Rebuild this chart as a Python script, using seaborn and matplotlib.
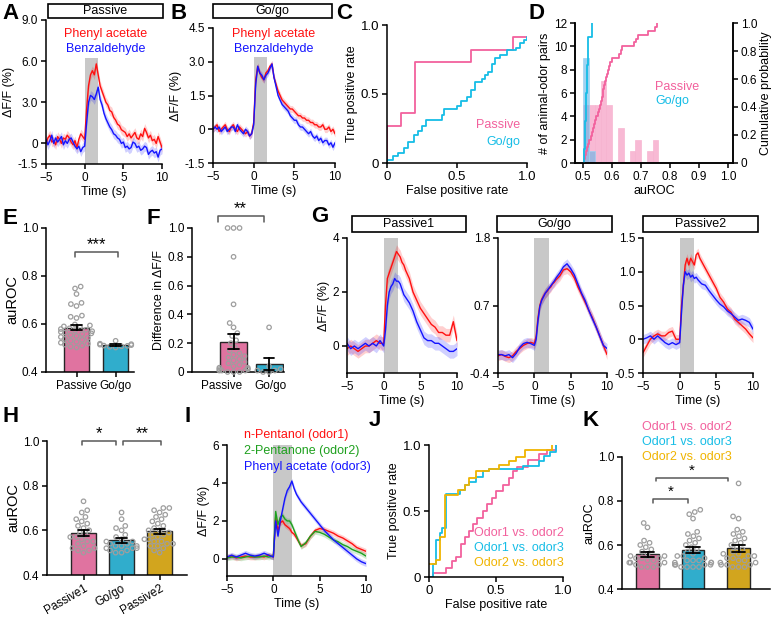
import warnings
import numpy as np
import pandas as pd
import matplotlib
matplotlib.use("Agg")
import matplotlib.pyplot as plt
from matplotlib.patches import Rectangle
from matplotlib.transforms import ScaledTranslation
import seaborn as sns

warnings.filterwarnings("ignore")

# ---- time courses (s) ----
t_fine = [-5, -4.75, -4.5, -4.25, -4, -3.75, -3.5, -3.25, -3, -2.75,
          -2.5, -2.25, -2, -1.75, -1.5, -1.25, -1, -0.75, -0.5, -0.25,
          0, 0.25, 0.5, 0.75, 1, 1.25, 1.5, 1.75, 2, 2.25, 2.5, 2.75, 3,
          3.25, 3.5, 3.75, 4, 4.25, 4.5, 4.75, 5, 5.25, 5.5, 5.75, 6, 6.25,
          6.5, 6.75, 7, 7.25, 7.5, 7.75, 8, 8.25, 8.5, 8.75, 9, 9.25, 9.5, 9.75, 10]
t_sec = [-5, -4.5, -4, -3.5, -3, -2.5, -2, -1.5, -1, -0.5,
         0, 0.25, 0.5, 0.75, 1, 1.25, 1.5, 1.75, 2, 2.25, 2.5, 2.75, 3,
         3.5, 4, 4.5, 5, 5.5, 6, 6.5, 7, 7.5, 8, 8.5, 9, 9.5, 10]

a_phenyl = [0.0, 0.4, 0.6, 0.1, 0.2, -0.1, 0.5, 0.3, 0.0, 0.4,
            0.3, 0.6, 0.4, 0.1, -0.1, 0.2, -0.3, 0.3, 0.7, 0.5,
            0.3, 2.5, 4.2, 5.0, 5.3, 5.0, 5.8, 5.0, 4.2, 3.8, 3.4, 3.0, 2.8,
            2.4, 2.3, 1.9, 1.7, 1.4, 1.3, 1.0, 0.9, 0.8, 0.5, 0.7, 0.4, 0.6,
            0.8, 0.4, 0.3, 0.7, 0.5, 1.1, 0.8, 0.4, 0.6, 0.2, 0.3, 0.0, 0.5, 0.1, -0.3]
a_benz = [0.3, -0.1, 0.2, 0.6, 0.0, 0.4, 0.1, 0.3, 0.5, -0.1,
          0.2, 0.0, 0.3, 0.4, 0.1, -0.2, -0.4, -0.2, -0.6, -0.3,
          -0.2, 1.5, 3.0, 3.5, 3.4, 3.2, 3.6, 4.1, 3.2, 2.8, 2.2, 1.8, 1.5,
          1.2, 1.0, 0.7, 0.6, 0.4, 0.3, 0.0, 0.1, -0.3, -0.2, -0.4, -0.3, 0.1,
          0.0, -0.3, -0.2, -0.5, -0.4, -0.2, -0.3, -0.8, -0.6, -0.5, -0.7, -0.6, -1.0, -0.5, -0.4]
b_phenyl = [0.0, 0.1, 0.2, -0.1, 0.0, 0.1, 0.2, 0.0, -0.1, 0.1,
            0.2, 0.0, -0.1, 0.1, 0.0, -0.1, -0.2, -0.1, -0.3, -0.2,
            0.3, 2.2, 2.8, 2.5, 2.3, 2.2, 2.5, 2.6, 2.8, 2.9, 2.3, 2.0, 1.7,
            1.5, 1.3, 1.2, 1.1, 1.0, 0.9, 0.9, 0.8, 0.7, 0.6, 0.6, 0.5, 0.5,
            0.4, 0.4, 0.3, 0.3, 0.2, 0.2, 0.1, 0.1, 0.2, 0.0, 0.0, 0.1, -0.1, 0.0, -0.2]
b_benz = [0.0, 0.1, 0.0, 0.1, -0.1, 0.0, 0.1, -0.1, 0.0, 0.1,
          0.1, -0.1, 0.2, 0.0, -0.1, -0.2, 0.0, -0.1, -0.3, -0.2,
          0.2, 2.0, 2.8, 2.5, 2.4, 2.2, 2.4, 2.5, 2.7, 2.9, 2.3, 1.9, 1.5,
          1.3, 1.1, 1.0, 0.9, 0.8, 0.6, 0.5, 0.4, 0.4, 0.2, 0.1, 0.1, 0.0,
          -0.1, -0.2, -0.1, -0.3, -0.4, -0.3, -0.5, -0.4, -0.6, -0.5, -0.5, -0.7, -0.6, -0.8, -0.6]
sem_a, sem_b = 0.35, 0.15

g1_red = [-0.1, 0.0, -0.1, -0.2, -0.1, 0.0, 0.0, 0.1, 0.2, 0.1,
          0.1, 1.5, 2.5, 2.7, 2.9, 3.1, 3.3, 3.5, 3.4, 3.3, 3.1, 3.0, 2.8,
          2.5, 2.0, 1.7, 1.4, 1.2, 1.0, 0.8, 0.7, 0.5, 0.5, 0.4, 0.4, 0.9, 0.2]
g1_blue = [0.1, -0.1, 0.0, -0.1, 0.0, 0.1, 0.0, 0.1, 0.0, 0.2,
           0.0, 0.6, 1.5, 2.0, 2.2, 2.3, 2.5, 2.4, 2.4, 2.3, 2.1, 1.9, 1.8,
           1.6, 1.3, 0.9, 0.6, 0.3, 0.2, 0.2, 0.1, 0.1, 0.0, -0.1, -0.2, -0.2, -0.1]
g2_red = [-0.12, -0.1, -0.13, -0.15, -0.12, -0.05, 0.0, 0.05, 0.08, 0.1,
          0.08, 0.2, 0.5, 0.7, 0.8, 0.85, 0.9, 0.93, 0.97, 1.0, 1.05, 1.08, 1.12,
          1.18, 1.28, 1.3, 1.25, 1.15, 1.0, 0.88, 0.75, 0.62, 0.5, 0.35, 0.2, 0.05, -0.1]
g2_blue = [-0.1, -0.1, -0.12, -0.1, -0.15, -0.08, 0.02, 0.08, 0.1, 0.08,
           0.05, 0.15, 0.45, 0.68, 0.78, 0.84, 0.9, 0.94, 0.98, 1.02, 1.06, 1.1, 1.15,
           1.23, 1.33, 1.38, 1.3, 1.2, 1.05, 0.9, 0.78, 0.62, 0.48, 0.35, 0.2, 0.05, 0.0]
g3_red = [-0.2, -0.1, 0.0, 0.05, 0.08, 0.05, 0.05, 0.1, 0.12, 0.0,
          0.0, 0.5, 0.8, 1.1, 1.2, 1.1, 1.2, 1.15, 1.1, 1.25, 1.28, 1.2, 1.15,
          1.05, 0.95, 0.85, 0.75, 0.62, 0.55, 0.45, 0.4, 0.3, 0.25, 0.2, 0.15, 0.08, 0.02]
g3_blue = [0.0, 0.02, 0.05, 0.0, 0.05, 0.0, -0.05, -0.08, -0.05, -0.08,
           -0.05, 0.4, 0.8, 1.0, 0.95, 0.98, 0.92, 0.95, 0.9, 0.92, 0.88, 0.85, 0.82,
           0.8, 0.72, 0.65, 0.58, 0.52, 0.48, 0.42, 0.38, 0.33, 0.28, 0.3, 0.28, 0.25, 0.15]
sem_g = [0.25, 0.08, 0.07]

i_pentanol = [0.1, 0.15, 0.05, 0.1, 0.15, 0.1, 0.1, 0.15, 0.1, 0.2,
              0.1, 2.2, 1.5, 1.9, 2.0, 1.8, 1.7, 1.6, 1.4, 1.3, 1.1, 0.9, 0.7,
              0.8, 1.2, 1.5, 1.6, 1.55, 1.45, 1.35, 1.2, 1.1, 0.95, 0.8, 0.6, 0.5, 0.4]
i_pentanone = [0.05, 0.1, 0.1, 0.05, 0.1, 0.15, 0.1, 0.1, 0.15, 0.1,
               0.15, 2.5, 1.8, 2.2, 2.3, 2.1, 2.0, 2.0, 1.8, 1.5, 1.2, 0.9, 0.65,
               0.85, 1.2, 1.45, 1.4, 1.3, 1.15, 1.0, 0.9, 0.75, 0.65, 0.5, 0.4, 0.3, 0.15]
i_phenyl = [0.1, 0.2, 0.1, 0.2, 0.3, 0.2, 0.15, 0.2, 0.3, 0.2,
            0.1, 2.0, 1.2, 2.0, 2.6, 3.2, 3.6, 3.8, 4.1, 3.7, 3.4, 3.2, 3.0,
            2.7, 2.4, 2.1, 1.8, 1.5, 1.25, 1.0, 0.8, 0.6, 0.4, 0.2, 0.0, -0.15, -0.25]
sem_i = 0.15

# ---- ROC curves ----
c_passive_fpr = [0, 0, 0.1, 0.2, 0.6, 0.9, 1.0]
c_passive_tpr = [0, 0.27, 0.36, 0.73, 0.82, 0.91, 0.91]
c_gogo_fpr = [0, 0, 0.04, 0.08, 0.12, 0.15, 0.19, 0.22, 0.25, 0.28, 0.39, 0.41, 0.5, 0.53,
              0.57, 0.6, 0.63, 0.68, 0.7, 0.72, 0.75, 0.77, 0.81, 0.86, 0.92, 0.95, 0.98, 1.0]
c_gogo_tpr = [0, 0.02, 0.05, 0.07, 0.11, 0.15, 0.2, 0.23, 0.27, 0.31, 0.35, 0.39, 0.41, 0.45,
              0.48, 0.53, 0.59, 0.61, 0.64, 0.66, 0.72, 0.76, 0.78, 0.82, 0.83, 0.87, 0.89, 0.91]

j_12_fpr = [0, 0.03, 0.13, 0.17, 0.2, 0.24, 0.27, 0.3, 0.33, 0.36, 0.4,
            0.43, 0.47, 0.5, 0.55, 0.6, 0.63, 0.66, 0.74, 0.82, 0.88, 0.95]
j_12_tpr = [0, 0.03, 0.07, 0.12, 0.15, 0.25, 0.3, 0.35, 0.4, 0.45, 0.5,
            0.55, 0.6, 0.65, 0.7, 0.75, 0.8, 0.83, 0.89, 0.93, 0.96, 1.0]
j_13_fpr = [0, 0.03, 0.05, 0.08, 0.1, 0.13, 0.23, 0.27, 0.3, 0.35, 0.4, 0.45,
            0.7, 0.76, 0.82, 0.86, 0.9, 0.95]
j_13_tpr = [0, 0.1, 0.28, 0.33, 0.37, 0.63, 0.66, 0.7, 0.72, 0.76, 0.8, 0.82,
            0.84, 0.84, 0.88, 0.92, 0.95, 1.0]
j_23_fpr = [0, 0.05, 0.08, 0.12, 0.22, 0.27, 0.3, 0.35, 0.45, 0.52, 0.6, 0.65, 0.72, 0.92]
j_23_tpr = [0.1, 0.13, 0.3, 0.62, 0.66, 0.7, 0.75, 0.8, 0.82, 0.85, 0.88, 0.91, 0.96, 1.0]

# ---- auROC per animal-odor pair (D, E) ----
auroc_passive = [0.502, 0.506, 0.51, 0.514, 0.518, 0.522, 0.526, 0.53, 0.534, 0.538,
                 0.542, 0.546, 0.55, 0.554, 0.558, 0.561, 0.564, 0.567, 0.57, 0.573,
                 0.576, 0.579, 0.582, 0.586, 0.59, 0.594, 0.598, 0.625, 0.63, 0.635,
                 0.675, 0.683, 0.688, 0.725, 0.748, 0.756]
auroc_gogo = [0.502, 0.505, 0.507, 0.509, 0.51, 0.512, 0.514, 0.516, 0.518, 0.53]

# ---- difference in dF/F (F) ----
diff_passive = [1.0, 1.0, 1.0, 0.8, 0.47, 0.34, 0.31, 0.27, 0.25, 0.2, 0.15, 0.12,
                0.1, 0.08, 0.06, 0.04, 0.02, 0.01, 0.0, 0.0, 0.01, 0.02, 0.03, 0.05,
                0.07, 0.09, 0.11, 0.13, 0.17, 0.22, 0.0, 0.01, 0.02, 0.03]
diff_gogo = [0.31, 0.04, 0.02, 0.01, 0.01, 0.0, 0.0]

# ---- auROC across sessions (H) ----
h_passive1 = [0.73, 0.69, 0.68, 0.66, 0.65, 0.64, 0.63, 0.62, 0.61, 0.60, 0.59, 0.58,
              0.57, 0.57, 0.56, 0.55, 0.55, 0.54, 0.53, 0.52, 0.51, 0.50, 0.51, 0.52]
h_gogo = [0.68, 0.65, 0.62, 0.61, 0.60, 0.58, 0.57, 0.56, 0.55, 0.55, 0.54,
          0.54, 0.53, 0.53, 0.52, 0.52, 0.51, 0.51, 0.50, 0.50, 0.52, 0.53]
h_passive2 = [0.70, 0.70, 0.69, 0.68, 0.67, 0.66, 0.65, 0.64, 0.63, 0.62, 0.61, 0.60,
              0.60, 0.59, 0.58, 0.57, 0.56, 0.55, 0.55, 0.54, 0.53, 0.52, 0.51, 0.50,
              0.53, 0.56, 0.58, 0.54]

# ---- auROC between odor pairs (K) ----
k_12 = [0.70, 0.68, 0.62, 0.61, 0.60, 0.59, 0.58, 0.57, 0.56, 0.55, 0.55, 0.54,
        0.54, 0.53, 0.53, 0.52, 0.52, 0.51, 0.51, 0.50, 0.50, 0.52, 0.54, 0.50]
k_13 = [0.76, 0.75, 0.74, 0.72, 0.66, 0.65, 0.64, 0.63, 0.62, 0.61, 0.60, 0.59,
        0.58, 0.57, 0.56, 0.55, 0.54, 0.53, 0.52, 0.51, 0.51, 0.50, 0.50, 0.52,
        0.53, 0.55, 0.50, 0.51, 0.52, 0.53, 0.50, 0.51]
k_23 = [0.88, 0.73, 0.72, 0.67, 0.66, 0.65, 0.64, 0.63, 0.62, 0.61, 0.60, 0.59,
        0.58, 0.57, 0.56, 0.55, 0.54, 0.53, 0.52, 0.51, 0.50, 0.50, 0.51, 0.52,
        0.53, 0.54, 0.55, 0.56, 0.50, 0.51]

# ---- style ----
sns.set_theme(style="ticks")
plt.rcParams["font.family"] = ["Liberation Sans", "DejaVu Sans"]
plt.rcParams.update({
    "axes.linewidth": 1.1, "axes.edgecolor": "black",
    "xtick.major.size": 3.5, "ytick.major.size": 3.5,
    "xtick.major.width": 1.1, "ytick.major.width": 1.1,
    "xtick.major.pad": 2, "ytick.major.pad": 2,
    "xtick.labelsize": 8.5, "ytick.labelsize": 8.5,
    "axes.labelsize": 8.5, "axes.labelpad": 2,
    "xtick.color": "black", "ytick.color": "black",
    "text.color": "black", "axes.labelcolor": "black",
})

RED, BLUE, GREEN = "#ff1010", "#1414ff", "#1ea01e"
PINK, CYAN, GOLD = "#f2619d", "#16bde6", "#f0b400"
STIM = "#c8c8c8"
LEG = 9

W, H = 775, 618
fig = plt.figure(figsize=(7.75, 6.18), dpi=100)


def box(l, t, r, b):
    return fig.add_axes([l / W, 1 - b / H, (r - l) / W, (b - t) / H])


def ftext(x, y, s, **kw):
    kw.setdefault("va", "center")
    fig.text(x / W, 1 - y / H, s, **kw)


def letter(x, y, s):
    fig.text(x / W, 1 - y / H, s, fontsize=16, fontweight="bold", va="top", ha="left")


def title_box(l, t, r, b, s):
    fig.add_artist(Rectangle((l / W, 1 - b / H), (r - l) / W, (b - t) / H,
                             transform=fig.transFigure, fill=False, lw=1.2, ec="black"))
    ftext((l + r) / 2, (t + b) / 2, s, ha="center", fontsize=9)


def trace(ax, t, y, sem, color):
    df = pd.DataFrame({"t": t, "y": y})
    sns.lineplot(data=df, x="t", y="y", color=color, lw=1.0, estimator=None, ax=ax)
    yy = np.array(y)
    ax.fill_between(t, yy - sem, yy + sem, color=color, alpha=0.2, lw=0)


def trace_axes(ax, ylim, yticks, ylabels, stim_end=2.0, stim_top=None, ylabel=True):
    top = ylim[1] if stim_top is None else stim_top
    ax.fill_between([0, stim_end], ylim[0], top, color=STIM, lw=0, zorder=0)
    ax.set_xlim(-5, 10)
    ax.set_ylim(*ylim)
    ax.set_xticks([-5, 0, 5, 10])
    ax.set_yticks(yticks)
    ax.set_yticklabels(ylabels)
    ax.set_xlabel("Time (s)", fontsize=9)
    ax.set_ylabel("ΔF/F (%)" if ylabel else "", fontsize=9)
    sns.despine(ax=ax)


def roc(ax, fpr, tpr, color):
    df = pd.DataFrame({"fpr": fpr, "tpr": tpr})
    sns.lineplot(data=df, x="fpr", y="tpr", color=color, lw=1.3, sort=False,
                 estimator=None, drawstyle="steps-post", ax=ax)


def roc_axes(ax, fs):
    ax.set_xlim(0, 1)
    ax.set_ylim(0, 1)
    ax.set_xticks([0, 0.5, 1.0])
    ax.set_xticklabels(["0", "0.5", "1.0"], fontsize=fs)
    ax.set_yticks([0, 0.5, 1.0])
    ax.set_yticklabels(["0", "0.5", "1.0"], fontsize=fs)
    ax.set_xlabel("False positive rate", fontsize=9)
    ax.set_ylabel("True positive rate", fontsize=9)
    sns.despine(ax=ax)


def bar_panel(ax, groups, colors, width, capsize):
    names = [n for n, _ in groups]
    df = pd.concat([pd.DataFrame({"group": n, "value": v}) for n, v in groups],
                   ignore_index=True)
    sns.barplot(data=df, x="group", y="value", hue="group", order=names,
                hue_order=names, palette=colors, width=width, errorbar="se",
                capsize=capsize, edgecolor="0.15", linewidth=1.0, legend=False,
                err_kws={"color": "black", "linewidth": 1.3, "zorder": 6}, ax=ax)
    n0 = len(ax.collections)
    sns.swarmplot(data=df, x="group", y="value", order=names, color="0.6",
                  size=3.2, ax=ax, zorder=4)
    for c in ax.collections[n0:]:
        c.set_facecolor("none")
        c.set_edgecolor("0.62")
        c.set_linewidth(0.9)
        c.set_clip_on(False)
    ax.set_xlabel("")
    sns.despine(ax=ax)


def bracket(ax, x1, x2, y, h, s, fs=12):
    ax.plot([x1, x1, x2, x2], [y - h, y, y, y - h], color="0.35", lw=1.1, clip_on=False)
    ax.text((x1 + x2) / 2, y, s, ha="center", va="bottom", fontsize=fs)


# ---- A ----
axA = box(46, 20, 162, 164)
trace(axA, t_fine, a_phenyl, sem_a, RED)
trace(axA, t_fine, a_benz, sem_a, BLUE)
trace_axes(axA, (-1.5, 9), [-1.5, 0, 3, 6, 9], ["-1.5", "0", "3.0", "6.0", "9.0"],
           stim_end=1.7, stim_top=6.2)
title_box(48, 4, 163, 18, "Passive")
ftext(106, 34, "Phenyl acetate", color=RED, ha="center", fontsize=LEG)
ftext(106, 49, "Benzaldehyde", color=BLUE, ha="center", fontsize=LEG)

# ---- B ----
axB = box(213, 28, 335, 163)
trace(axB, t_fine, b_phenyl, sem_b, RED)
trace(axB, t_fine, b_benz, sem_b, BLUE)
trace_axes(axB, (-1.5, 4.5), [-1.5, 0, 1.5, 3, 4.5], ["-1.5", "0", "1.5", "3.0", "4.5"],
           stim_end=1.6, stim_top=3.2)
title_box(213, 4, 332, 18, "Go/go")
ftext(274, 34, "Phenyl acetate", color=RED, ha="center", fontsize=LEG)
ftext(274, 49, "Benzaldehyde", color=BLUE, ha="center", fontsize=LEG)

# ---- C ----
axC = box(387, 25, 527, 163)
roc(axC, c_passive_fpr, c_passive_tpr, PINK)
roc(axC, c_gogo_fpr, c_gogo_tpr, CYAN)
roc_axes(axC, 9.5)
ftext(520, 125, "Passive", color=PINK, ha="right", fontsize=LEG)
ftext(520, 142, "Go/go", color=CYAN, ha="right", fontsize=LEG)

# ---- D ----
axD = box(575, 23, 733, 163)
sns.histplot(x=auroc_passive, binwidth=0.02, binrange=(0.5, 0.78), color="#f48bb8",
             alpha=0.6, edgecolor="#f7b6d2", linewidth=0.5, ax=axD)
sns.histplot(x=auroc_gogo, binwidth=0.02, binrange=(0.5, 0.54), color="#5fb4e8",
             alpha=0.6, edgecolor="#9fd0f0", linewidth=0.5, ax=axD)
axD.set_xlim(0.472, 1.017)
axD.set_ylim(0, 12)
axD.set_yticks(range(0, 13, 2))
axD.set_xticks([0.5, 0.6, 0.7, 0.8, 0.9, 1.0])
axD.set_xticklabels(["0.5", "0.6", "0.7", "0.8", "0.9", "1.0"])
axD.set_xlabel("auROC", fontsize=9)
axD.set_ylabel("# of animal-odor pairs", fontsize=9)
axD2 = axD.twinx()
sns.ecdfplot(x=auroc_passive, color=PINK, lw=1.3, ax=axD2)
sns.ecdfplot(x=auroc_gogo, color=CYAN, lw=1.3, ax=axD2)
axD2.set_ylim(0, 1)
axD2.set_yticks([0, 0.2, 0.4, 0.6, 0.8, 1.0])
axD2.set_yticklabels(["0", "0.2", "0.4", "0.6", "0.8", "1.0"])
axD2.set_ylabel("Cumulative probability", fontsize=9)
for a in (axD, axD2):
    a.spines["top"].set_visible(False)
ftext(655, 87, "Passive", color=PINK, ha="left", fontsize=LEG)
ftext(655, 101, "Go/go", color=CYAN, ha="left", fontsize=LEG)

# ---- E ----
axE = box(46, 228, 134, 372)
bar_panel(axE, [("Passive", auroc_passive), ("Go/go", auroc_gogo)], [PINK, CYAN], 0.64, 0.3)
axE.set_xlim(-0.78, 1.47)
axE.set_ylim(0.4, 1.0)
axE.set_yticks([0.4, 0.6, 0.8, 1.0])
axE.set_ylabel("auROC", fontsize=10.5)
bracket(axE, -0.05, 1.05, 0.9, 0.02, "***")

# ---- F ----
axF = box(192, 228, 284, 372)
bar_panel(axF, [("Passive", diff_passive), ("Go/go", diff_gogo)], [PINK, CYAN], 0.76, 0.3)
axF.set_xlim(-1.17, 1.42)
axF.set_ylim(0, 1.0)
axF.set_yticks([0, 0.2, 0.4, 0.6, 0.8, 1.0])
axF.set_yticklabels(["0", "0.2", "0.4", "0.6", "0.8", "1.0"])
axF.set_ylabel("Difference in ΔF/F", fontsize=9)
for lab, dx in zip(axF.get_xticklabels(), [-12, 1]):
    lab.set_transform(lab.get_transform() + ScaledTranslation(dx / 100, 0, fig.dpi_scale_trans))
bracket(axF, -0.45, 0.85, 1.08, 0.035, "**")

# ---- G ----
g_boxes = [(347, 457), (498, 607), (643, 753)]
g_titles = [(352, 466, "Passive1"), (497, 612, "Go/go"), (643, 758, "Passive2")]
g_data = [(g1_red, g1_blue), (g2_red, g2_blue), (g3_red, g3_blue)]
g_lims = [((-1, 4), [0, 2, 4], ["0", "2", "4"]),
          ((-0.4, 1.8), [-0.4, 0.7, 1.8], ["-0.4", "0.7", "1.8"]),
          ((-0.5, 1.5), [-0.5, 0, 0.5, 1.0, 1.5], ["-0.5", "0", "0.5", "1.0", "1.5"])]
for k in range(3):
    ax = box(g_boxes[k][0], 238, g_boxes[k][1], 373)
    trace(ax, t_sec, g_data[k][0], sem_g[k], RED)
    trace(ax, t_sec, g_data[k][1], sem_g[k], BLUE)
    ylim, yt, yl = g_lims[k]
    trace_axes(ax, ylim, yt, yl, ylabel=(k == 0))
    l, r, s = g_titles[k]
    title_box(l, 216, r, 232, s)

# ---- H ----
axH = box(47, 441, 187, 575)
bar_panel(axH, [("Passive1", h_passive1), ("Go/go", h_gogo), ("Passive2", h_passive2)],
          [PINK, CYAN, GOLD], 0.66, 0.3)
axH.set_xlim(-0.96, 2.72)
axH.set_ylim(0.4, 1.0)
axH.set_yticks([0.4, 0.6, 0.8, 1.0])
axH.set_ylabel("auROC", fontsize=10.5)
for lab in axH.get_xticklabels():
    lab.set_rotation(30)
    lab.set_ha("right")
    lab.set_rotation_mode("anchor")
bracket(axH, -0.05, 0.86, 1.0, 0.02, "*")
bracket(axH, 1.05, 2.03, 1.0, 0.02, "**")

# ---- I ----
axI = box(227, 445, 366, 576)
trace(axI, t_sec, i_pentanol, sem_i, RED)
trace(axI, t_sec, i_pentanone, sem_i, GREEN)
trace(axI, t_sec, i_phenyl, sem_i, BLUE)
trace_axes(axI, (-0.9, 6), [0, 2, 4, 6], ["0", "2", "4", "6"])
ftext(244, 435, "n-Pentanol (odor1)", color=RED, ha="left", fontsize=LEG)
ftext(244, 451, "2-Pentanone (odor2)", color=GREEN, ha="left", fontsize=LEG)
ftext(244, 467, "Phenyl acetate (odor3)", color=BLUE, ha="left", fontsize=LEG)

# ---- J ----
axJ = box(429, 445, 563, 577)
roc(axJ, j_12_fpr, j_12_tpr, PINK)
roc(axJ, j_13_fpr, j_13_tpr, CYAN)
roc(axJ, j_23_fpr, j_23_tpr, GOLD)
roc_axes(axJ, 9.5)
ftext(564, 533, "Odor1 vs. odor2", color=PINK, ha="right", fontsize=LEG)
ftext(564, 548, "Odor1 vs. odor3", color=CYAN, ha="right", fontsize=LEG)
ftext(564, 563, "Odor2 vs. odor3", color=GOLD, ha="right", fontsize=LEG)

# ---- K ----
axK = box(622, 457, 770, 589)
bar_panel(axK, [("Odor1 vs. odor2", k_12), ("Odor1 vs. odor3", k_13),
                ("Odor2 vs. odor3", k_23)], [PINK, CYAN, GOLD], 0.5, 0.3)
axK.set_xlim(-0.56, 2.69)
axK.set_ylim(0.4, 1.0)
axK.set_yticks([0.4, 0.6, 0.8, 1.0])
axK.set_xticks([])
axK.set_ylabel("auROC", fontsize=9)
bracket(axK, 0.12, 0.89, 0.81, 0.02, "*", fs=11)
bracket(axK, 0.19, 1.77, 0.905, 0.015, "*", fs=11)
ftext(687, 427, "Odor1 vs. odor2", color=PINK, ha="center", fontsize=LEG)
ftext(687, 442, "Odor1 vs. odor3", color=CYAN, ha="center", fontsize=LEG)
ftext(687, 457, "Odor2 vs. odor3", color=GOLD, ha="center", fontsize=LEG)

# ---- panel letters ----
for s, x, y in [("A", 2, 3), ("B", 171, 3), ("C", 336, 3), ("D", 529, 3),
                ("E", 2, 208), ("F", 147, 208), ("G", 311, 206),
                ("H", 2, 406), ("I", 184, 406), ("J", 369, 410), ("K", 582, 410)]:
    letter(x, y, s)

fig.savefig("out.png", dpi=100)
